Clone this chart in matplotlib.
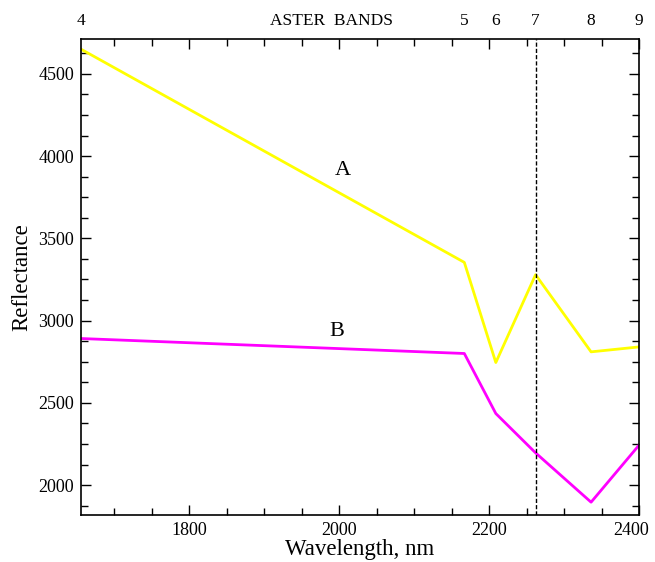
import matplotlib
matplotlib.use("Agg")
import matplotlib.pyplot as plt
from matplotlib.ticker import MultipleLocator
from matplotlib.transforms import blended_transform_factory, ScaledTranslation

plt.rcParams['font.family'] = ['Liberation Serif', 'DejaVu Serif']

# ASTER SWIR band centres (nm)
band_names = ['4', '5', '6', '7', '8', '9']
wavelength = [1656, 2167, 2209, 2262, 2336, 2400]

refl_a = [4650, 3354, 2745, 3279, 2810, 2840]
refl_b = [2891, 2800, 2435, 2196, 1896, 2243]

x_ticks = [1800, 2000, 2200, 2400]

fig = plt.figure(figsize=(6.55, 5.62), dpi=100)
ax = fig.add_axes([0.1237, 0.0836, 0.852, 0.847])

ax.plot(wavelength, refl_a, color='#ffff00', lw=2.0)
ax.plot(wavelength, refl_b, color='#ff00ff', lw=2.0)
ax.axvline(wavelength[3], color='black', ls='--', lw=1.0, dashes=(3, 1.5))

ax.text(2005, 3911, 'A', fontsize=16, ha='center', va='center')
ax.text(1997, 2933, 'B', fontsize=16, ha='center', va='center')

ax.set_xlim(1656, 2400)
ax.set_ylim(1818, 4712)
ax.set_xticks(x_ticks)
ax.xaxis.set_minor_locator(MultipleLocator(50))
ax.yaxis.set_major_locator(MultipleLocator(500))
ax.yaxis.set_minor_locator(MultipleLocator(125))
ax.tick_params(which='both', direction='in', top=True, right=True, width=1.0)
ax.tick_params(which='major', length=7, labelsize=13, pad=5)
ax.tick_params(which='minor', length=5)
for s in ax.spines.values():
    s.set_linewidth(1.2)

# nudge the last x label so it stays inside the figure
last = ax.get_xticklabels()[-1]
last.set_transform(last.get_transform() + ScaledTranslation(-6 / 72, 0, fig.dpi_scale_trans))

ax.set_xlabel('Wavelength, nm', fontsize=16.5, labelpad=0)
ax.set_ylabel('Reflectance', fontsize=16.5, labelpad=4)

trans = blended_transform_factory(ax.transData, ax.transAxes)
for name, wl in zip(band_names, wavelength):
    ax.text(wl, 1.021, name, transform=trans, ha='center', va='bottom',
            fontsize=12.5, clip_on=False)
ax.text(1990, 1.021, 'ASTER  BANDS', transform=trans, ha='center',
        va='bottom', fontsize=12.5, clip_on=False)

fig.savefig('out.png', dpi=100)
